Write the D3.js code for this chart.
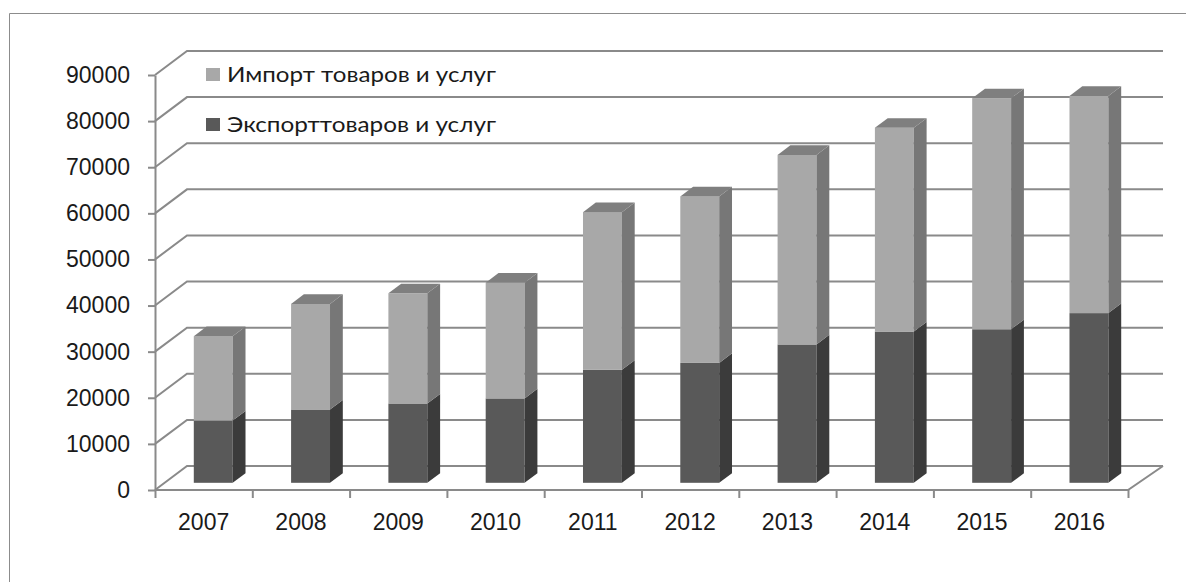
<!DOCTYPE html>
<html>
<head>
<meta charset="utf-8">
<script src="https://cdn.jsdelivr.net/npm/d3@7"></script>
<style>
  body { margin: 0; background: #fff; }
  svg { display: block; font-family: Lato, "Liberation Sans", sans-serif; }
</style>
</head>
<body>
<svg id="chart"></svg>
<script>
var years = ['2007', '2008', '2009', '2010', '2011', '2012', '2013', '2014', '2015', '2016'];
var exportValues = [13500, 15900, 17200, 18300, 24500, 26000, 30000, 32800, 33300, 36800];
var importValues = [18300, 22900, 23900, 25100, 34200, 36100, 41100, 44200, 50100, 47100];
var yTicks = [0, 10000, 20000, 30000, 40000, 50000, 60000, 70000, 80000, 90000];
var seriesNames = ['Импорт товаров и услуг', 'Экспорттоваров и услуг'];

document.addEventListener('DOMContentLoaded', () => {
  var size = { width: 1186, height: 582 };
  // floor front-left corner and plot extents
  var left = 155, right = 1128, bottom = 490, top = 75;
  // oblique depth vector (front -> back wall)
  var depth = { dx: 32, dy: -24 };
  var front = 0.3, back = 0.7;

  var svg = d3.select('#chart')
    .attr('width', size.width)
    .attr('height', size.height);

  // outer frame (left and top edges visible)
  svg.append('path')
    .attr('d', 'M9.5,582 L9.5,13.5 L1186,13.5')
    .attr('fill', 'none')
    .attr('stroke', '#8c8c8c')
    .attr('stroke-width', 1);

  var x = d3.scaleBand()
    .domain(years)
    .range([left, right])
    .paddingInner(0)
    .paddingOuter(0);

  var y = d3.scaleLinear()
    .domain([0, 90000])
    .range([bottom, top]);

  var gridColor = '#8a8a8a';

  // back wall grid lines + left wall diagonals
  var grid = svg.append('g').attr('class', 'grid');
  grid.selectAll('.back')
    .data(yTicks)
    .enter().append('path')
      .attr('d', d => `M${left},${y(d)} L${left + depth.dx},${y(d) + depth.dy} L${right + depth.dx + 3},${y(d) + depth.dy}`)
      .attr('fill', 'none')
      .attr('stroke', gridColor)
      .attr('stroke-width', 2);

  // floor front + right edges
  svg.append('path')
    .attr('d', `M${left},${bottom} L${right},${bottom} L${right + depth.dx + 3},${bottom + depth.dy}`)
    .attr('fill', 'none')
    .attr('stroke', gridColor)
    .attr('stroke-width', 2);

  // bars
  var colors = {
    exp: { front: '#595959', side: '#3b3b3b', top: '#474747' },
    imp: { front: '#a8a8a8', side: '#777777', top: '#7f7f7f' }
  };
  var barW = x.bandwidth() * 0.4;
  var fx = depth.dx * front, fy = depth.dy * front;
  var bdx = depth.dx * (back - front), bdy = depth.dy * (back - front);

  var stacked = years.map((yr, i) => ({
    year: yr,
    segs: [
      { key: 'exp', y0: 0, y1: exportValues[i] },
      { key: 'imp', y0: exportValues[i], y1: exportValues[i] + importValues[i] }
    ]
  }));

  var bars = svg.append('g').attr('class', 'bars')
    .selectAll('.bar')
    .data(stacked)
    .enter().append('g')
      .attr('class', 'bar');

  bars.each(function(d) {
    var g = d3.select(this);
    var x0 = x(d.year) + (x.bandwidth() - barW) / 2 + fx;
    var x1 = x0 + barW;
    d.segs.forEach((s, k) => {
      var yb = y(s.y0) + fy, yt = y(s.y1) + fy;
      var c = colors[s.key];
      g.append('rect')
        .attr('x', x0).attr('y', yt)
        .attr('width', barW).attr('height', yb - yt)
        .attr('fill', c.front);
      g.append('path')
        .attr('d', `M${x1},${yb} L${x1 + bdx},${yb + bdy} L${x1 + bdx},${yt + bdy} L${x1},${yt} Z`)
        .attr('fill', c.side);
      if (k === d.segs.length - 1) {
        g.append('path')
          .attr('d', `M${x0},${yt} L${x0 + bdx},${yt + bdy} L${x1 + bdx},${yt + bdy} L${x1},${yt} Z`)
          .attr('fill', c.top);
      }
    });
  });

  // y axis
  var yAxis = d3.axisLeft(y)
    .tickValues(yTicks)
    .tickSize(7)
    .tickSizeOuter(0)
    .tickPadding(18)
    .tickFormat(d3.format('d'));

  var ya = svg.append('g')
    .attr('class', 'axis y')
    .attr('transform', `translate(${left}, 0)`)
    .call(yAxis);
  ya.select('.domain').attr('stroke', gridColor).attr('stroke-width', 2);
  ya.selectAll('.tick line').attr('stroke', gridColor).attr('stroke-width', 2);
  ya.selectAll('.tick text')
    .attr('fill', '#1a1a1a')
    .style('font-size', '23px');

  // x axis: ticks on band edges, labels at band centers
  var edges = d3.scaleLinear().domain([0, years.length]).range([left, right]);
  var xTickAxis = d3.axisBottom(edges)
    .tickValues(d3.range(years.length + 1))
    .tickSize(8)
    .tickSizeOuter(0)
    .tickFormat('');
  var xt = svg.append('g')
    .attr('class', 'axis x-ticks')
    .attr('transform', `translate(0, ${bottom})`)
    .call(xTickAxis);
  xt.select('.domain').remove();
  xt.selectAll('.tick line').attr('stroke', gridColor).attr('stroke-width', 2);

  var xAxis = d3.axisBottom(x).tickSize(0).tickPadding(24);
  var xa = svg.append('g')
    .attr('class', 'axis x')
    .attr('transform', `translate(0, ${bottom})`)
    .call(xAxis);
  xa.select('.domain').remove();
  xa.selectAll('.tick text')
    .attr('fill', '#1a1a1a')
    .style('font-size', '23px');

  // legend
  var legendColors = [colors.imp.front, colors.exp.front];
  var legend = svg.append('g').attr('class', 'legend');
  var item = legend.selectAll('.item')
    .data(seriesNames)
    .enter().append('g')
      .attr('class', 'item')
      .attr('transform', (d, i) => `translate(206, ${68 + i * 50})`);
  item.append('rect')
    .attr('width', 14).attr('height', 13)
    .attr('fill', (d, i) => legendColors[i]);
  item.append('text')
    .attr('x', 21).attr('y', 14)
    .attr('fill', '#1a1a1a')
    .attr('textLength', 269)
    .attr('lengthAdjust', 'spacingAndGlyphs')
    .style('font-size', '22px')
    .text(d => d);
});
</script>
</body>
</html>
